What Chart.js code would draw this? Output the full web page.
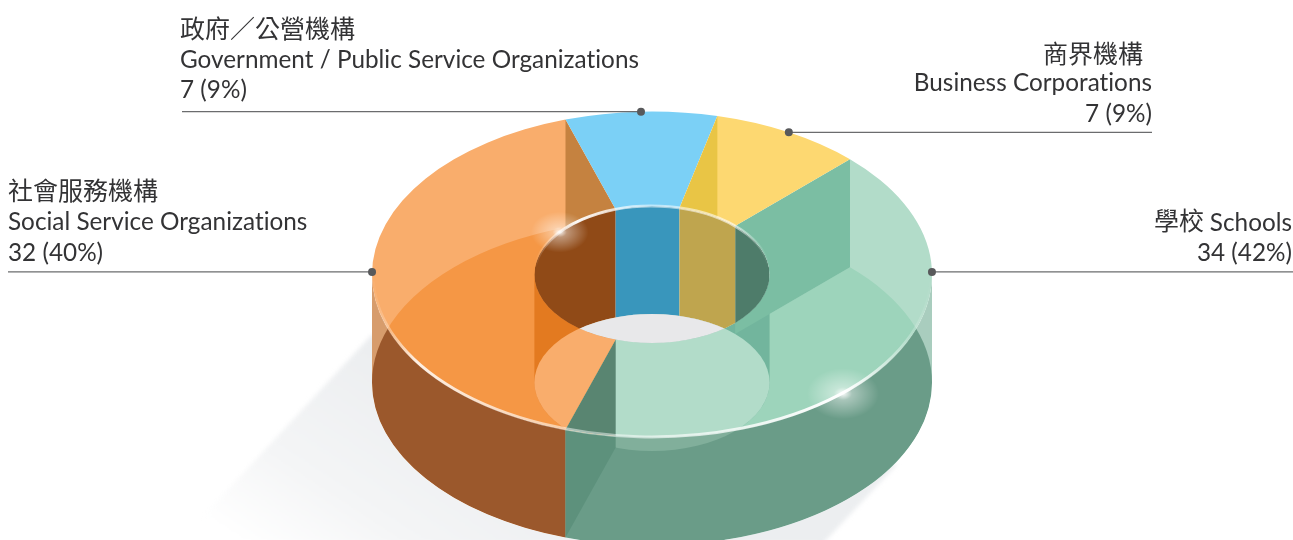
<!DOCTYPE html>
<html>
<head>
<meta charset="utf-8">
<style>
  html, body { margin: 0; background: #fff; overflow: hidden; }
</style>
<script src="https://cdn.jsdelivr.net/npm/chart.js@4/dist/chart.umd.js"></script>
</head>
<body>
<canvas id="donut" width="1293" height="540"></canvas>
<script>
// slices run clockwise from the Schools / Business border
const categories = ['Schools', 'Social Service Organizations', 'Government / Public Service Organizations', 'Business Corporations'];
const values = [34, 32, 7, 7];
const percents = ['42%', '40%', '9%', '9%'];
const zh_names = ['學校', '社會服務機構', '政府／公營機構', '商界機構'];

// the finish of each slice, seen through the glass top
const top_colors = ['#B2DCC9', '#F9AD6C', '#7BD0F6', '#FDD871'];
const floor_colors = ['#9DD4BB', '#F59745', null, null];
const wall_colors = ['#6A9C88', '#9B582C', null, null];
const pale_wall_colors = ['#A9CDBE', '#D79C6C', null, null];
const hole_colors = ['#4E7C6A', '#904A17', '#3996BC', '#BFA54E'];
const crescent_colors = ['#72B59D', '#E37A20', null, null];

const squash = 0.582;
const depth = 108;
const TAU = Math.PI * 2;

let cx, cy, R, r;

const pt = (a, rad, dz = 0) => [cx + rad * Math.cos(a), cy + rad * squash * Math.sin(a) + dz];

function ellipse_path(ctx, rad, dz = 0) {
  ctx.beginPath();
  ctx.ellipse(cx, cy + dz, rad, rad * squash, 0, 0, TAU);
}

function slice_path(ctx, arc, dz = 0) {
  ctx.beginPath();
  ctx.ellipse(cx, cy + dz, R, R * squash, 0, arc.startAngle, arc.endAngle);
  ctx.ellipse(cx, cy + dz, r, r * squash, 0, arc.endAngle, arc.startAngle, true);
  ctx.closePath();
}

// side of the cylinder of radius rad between two angles
function side_path(ctx, rad, a1, a2) {
  ctx.beginPath();
  ctx.ellipse(cx, cy, rad, rad * squash, 0, a1, a2);
  ctx.ellipse(cx, cy + depth, rad, rad * squash, 0, a2, a1, true);
  ctx.closePath();
}

// cut face between two slices
function cut_path(ctx, a) {
  ctx.beginPath();
  ctx.moveTo(...pt(a, R));
  ctx.lineTo(...pt(a, r));
  ctx.lineTo(...pt(a, r, depth));
  ctx.lineTo(...pt(a, R, depth));
  ctx.closePath();
}

function fill_side(ctx, rad, arc, lo, hi, color) {
  const a1 = Math.max(arc.startAngle, lo);
  const a2 = Math.min(arc.endAngle, hi);
  if (a2 <= a1) return;
  side_path(ctx, rad, a1, a2);
  ctx.fillStyle = color;
  ctx.fill();
}

// sparkle stretched along the rim
function glow(ctx, x, y, size) {
  ctx.save();
  ctx.translate(x, y);
  ctx.scale(1.2, 0.85);
  const g = ctx.createRadialGradient(0, 0, 0, 0, 0, size);
  g.addColorStop(0, 'rgba(255,255,255,0.95)');
  g.addColorStop(0.25, 'rgba(255,255,255,0.42)');
  g.addColorStop(1, 'rgba(255,255,255,0)');
  ctx.fillStyle = g;
  ctx.beginPath();
  ctx.arc(0, 0, size, 0, TAU);
  ctx.fill();
  ctx.restore();
}

const extrude = {
  id: 'extrude',
  beforeDatasetsDraw(chart) {
    const ctx = chart.ctx;
    const arcs = chart.getDatasetMeta(0).data;
    ({ x: cx, y: cy, outerRadius: R, innerRadius: r } = arcs[0]);

    // cast shadow
    ctx.save();
    const sh = ctx.createLinearGradient(cx - R, cy + 70, cx - R - 130, cy + 268);
    sh.addColorStop(0, '#ECEEF0');
    sh.addColorStop(0.6, '#F4F5F6');
    sh.addColorStop(1, '#FFFFFF');
    ctx.fillStyle = sh;
    ctx.filter = 'blur(2px)';
    ctx.beginPath();
    ctx.moveTo(cx - R, cy + 60);
    ctx.lineTo(cx - R - 195, cy + 270);
    ctx.lineTo(cx + 170, cy + 270);
    ctx.lineTo(cx + 245, cy + 190);
    ctx.closePath();
    ctx.fill();
    ctx.restore();

    // outer walls
    arcs.forEach((arc, i) => {
      if (pale_wall_colors[i]) fill_side(ctx, R, arc, 0, Math.PI, pale_wall_colors[i]);
    });
    ctx.save();
    ellipse_path(ctx, R, depth);
    ctx.clip();
    arcs.forEach((arc, i) => {
      if (wall_colors[i]) fill_side(ctx, R, arc, 0, Math.PI, wall_colors[i]);
    });
    ellipse_path(ctx, r, depth);
    ctx.fillStyle = '#81AF9B';
    ctx.fill();
    cut_path(ctx, arcs[0].endAngle);
    ctx.fillStyle = '#5D917C';
    ctx.fill();
    ctx.restore();

    // the library draws the top face squashed
    ctx.save();
    ctx.translate(cx, cy);
    ctx.scale(1, squash);
    ctx.translate(-cx, -cy);
  },
  afterDatasetsDraw(chart) {
    const ctx = chart.ctx;
    const arcs = chart.getDatasetMeta(0).data;
    ctx.restore();

    ctx.save();
    ellipse_path(ctx, R);
    ctx.clip();

    // floor of the ring, seen through the top
    arcs.forEach((arc, i) => {
      if (!floor_colors[i]) return;
      slice_path(ctx, arc, depth);
      ctx.fillStyle = floor_colors[i];
      ctx.fill();
    });

    // front of the hole
    arcs.forEach((arc, i) => {
      if (crescent_colors[i]) fill_side(ctx, r, arc, 0, Math.PI, crescent_colors[i]);
    });

    // clear floor under the hole
    ctx.save();
    ellipse_path(ctx, r, depth);
    ctx.clip();
    arcs.forEach((arc, i) => {
      slice_path(ctx, arc);
      ctx.fillStyle = top_colors[i];
      ctx.fill();
    });
    ctx.restore();

    // cut faces showing through the neighbouring slice
    [
      [arcs[0].startAngle, 0, '#7BBEA3'],
      [arcs[0].endAngle, 0, '#598571'],
      [arcs[1].endAngle, 1, '#C58240'],
      [arcs[2].endAngle, 3, '#E9C545']
    ].forEach(([a, i, color]) => {
      ctx.save();
      slice_path(ctx, arcs[i]);
      ctx.clip();
      cut_path(ctx, a);
      ctx.fillStyle = color;
      ctx.fill();
      ctx.restore();
    });
    ctx.restore();

    // hole: back wall and the light through the bottom
    ctx.save();
    ellipse_path(ctx, r);
    ctx.clip();
    arcs.forEach((arc, i) => {
      fill_side(ctx, r, arc, -Math.PI, 0, hole_colors[i]);
      fill_side(ctx, r, arc, Math.PI, TAU, hole_colors[i]);
    });
    ellipse_path(ctx, r, depth);
    ctx.fillStyle = '#E8E8EA';
    ctx.fill();
    ctx.restore();

    // glass rims
    ctx.save();
    ctx.lineCap = 'round';
    const rim = ctx.createLinearGradient(cx - R, 0, cx + R, 0);
    rim.addColorStop(0, 'rgba(255,255,255,0)');
    rim.addColorStop(0.08, 'rgba(255,255,255,0.85)');
    rim.addColorStop(0.4, 'rgba(255,255,255,0.45)');
    rim.addColorStop(0.84, 'rgba(255,255,255,1)');
    rim.addColorStop(1, 'rgba(255,255,255,0)');
    ctx.strokeStyle = rim;
    ctx.lineWidth = 3;
    ctx.filter = 'blur(0.6px)';
    ctx.beginPath();
    ctx.ellipse(cx, cy, R - 1, (R - 1) * squash, 0, 0.05, Math.PI - 0.05);
    ctx.stroke();

    const lip = ctx.createLinearGradient(cx - r, 0, cx + r, 0);
    lip.addColorStop(0, 'rgba(255,255,255,0)');
    lip.addColorStop(0.18, 'rgba(255,255,255,0.95)');
    lip.addColorStop(0.5, 'rgba(255,255,255,0.5)');
    lip.addColorStop(0.85, 'rgba(255,255,255,0.6)');
    lip.addColorStop(1, 'rgba(255,255,255,0)');
    ctx.strokeStyle = lip;
    ctx.lineWidth = 3;
    ctx.beginPath();
    ctx.ellipse(cx, cy, r, r * squash, 0, Math.PI + 0.15, TAU - 0.15);
    ctx.stroke();
    ctx.restore();

    glow(ctx, ...pt(0.82, R), 30);
    glow(ctx, ...pt(3.81, r), 24);

    draw_labels(chart, arcs);
  }
};

// leader anchors, degrees clockwise from the top of the ring
const anchor_angles = [89.1, 270.9, 357.75, 29.25];
const leader_ends = [1293, 8, 182, 1152];
const label_aligns = ['right', 'left', 'left', 'right'];
const label_x = [1292, 8, 180, 1152];
// text, baseline, is chinese, x when it differs from the label's
const label_lines = [
  [[zh_names[0], 229.5, true, 1204], [categories[0], 231, false], [values[0] + ' (' + percents[0] + ')', 261, false]],
  [[zh_names[1], 199.5, true], [categories[1], 230, false], [values[1] + ' (' + percents[1] + ')', 261, false]],
  [[zh_names[2], 37.5, true], [categories[2], 68, false], [values[2] + ' (' + percents[2] + ')', 98, false]],
  [[zh_names[3], 62.5, true, 1143], [categories[3], 91, false], [values[3] + ' (' + percents[3] + ')', 122, false]]
];

function draw_labels(chart, arcs) {
  const ctx = chart.ctx;
  ctx.save();
  arcs.forEach((arc, i) => {
    const [ax, ay] = pt((anchor_angles[i] - 90) * Math.PI / 180, R);
    ctx.strokeStyle = '#6B6C6E';
    ctx.lineWidth = 1.3;
    ctx.beginPath();
    ctx.moveTo(ax, ay);
    ctx.lineTo(leader_ends[i], ay);
    ctx.stroke();
    ctx.fillStyle = '#58595B';
    ctx.beginPath();
    ctx.arc(ax, ay, 4, 0, TAU);
    ctx.fill();

    ctx.fillStyle = '#333335';
    ctx.textAlign = label_aligns[i];
    ctx.textBaseline = 'alphabetic';
    label_lines[i].forEach(([text, y, is_zh, x]) => {
      ctx.font = is_zh ? '25px "Noto Sans CJK TC", sans-serif' : '24.3px Lato, sans-serif';
      ctx.letterSpacing = is_zh ? '0px' : '0.01px';
      ctx.fillText(text, x === undefined ? label_x[i] : x, y);
    });
  });
  ctx.restore();
}

new Chart(document.querySelector('#donut').getContext('2d'), {
  type: 'doughnut',
  data: {
    labels: categories,
    datasets: [{
      data: values,
      backgroundColor: top_colors,
      borderWidth: 0,
      clip: false
    }]
  },
  plugins: [extrude],
  options: {
    responsive: false,
    animation: false,
    events: [],
    rotation: 45,
    radius: 280,
    cutout: '42%',
    layout: { padding: { left: 11, top: 9 } },
    plugins: {
      legend: { display: false },
      tooltip: { enabled: false }
    }
  }
});
</script>
</body>
</html>
